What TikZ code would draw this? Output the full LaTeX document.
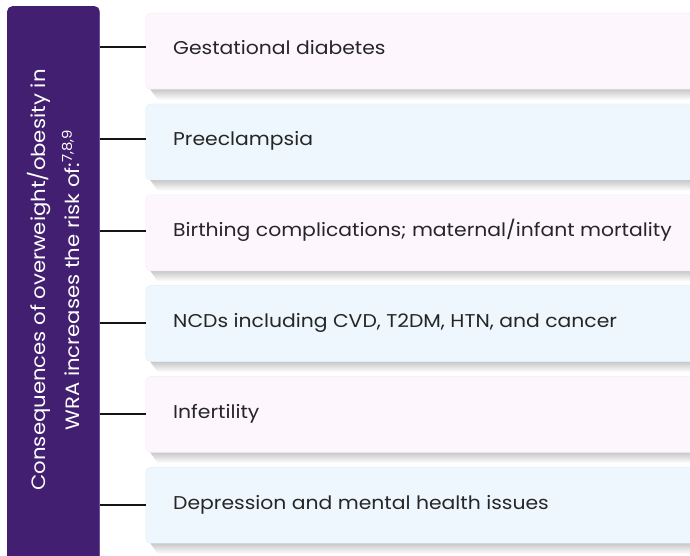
\documentclass[tikz,border=0pt]{standalone}
\usepackage{fontspec}
\setmainfont{Poppins}[FakeStretch=1.1]
\usetikzlibrary{positioning}
\definecolor{barpurple}{RGB}{66,31,112}
\definecolor{baredge}{RGB}{110,80,160}
\definecolor{boxpink}{RGB}{253,246,253}
\definecolor{boxblue}{RGB}{237,247,253}
\definecolor{pinkedge}{RGB}{246,236,246}
\definecolor{blueedge}{RGB}{226,238,248}
\definecolor{linkcol}{RGB}{20,20,20}
\tikzset{
  itembox/.style={rounded corners=5pt, minimum width=560pt, minimum height=76pt, anchor=north west, inner sep=0pt},
  pinkbox/.style={itembox, fill=boxpink, draw=pinkedge},
  bluebox/.style={itembox, fill=boxblue, draw=blueedge},
  itemtext/.style={anchor=base west, font=\fontsize{18.5pt}{22pt}\selectfont, text=black!85, inner sep=0pt},
  link/.style={draw=linkcol, line width=2pt},
  boxshadow/.style={top color=black!22, bottom color=white, draw=none}
}
\begin{document}
\begin{tikzpicture}[x=1pt,y=-1pt]
\useasboundingbox (0,0) rectangle (690,556);
\clip (0,0) rectangle (690,556);
\fill[white] (0,0) rectangle (690,556);
% bar
\node[fill=barpurple, rounded corners=5pt, minimum width=92.5pt, minimum height=560pt, anchor=north west, inner sep=0pt] (bar) at (7,6) {};
\draw[baredge, line width=1pt] (99.5,12) -- (99.5,556);
\node[rotate=90, text=white, align=center, font=\fontsize{19.3pt}{34pt}\selectfont] (title) at (53.5,280)
  {Consequences of overweight/obesity in\\WRA increases the risk of:\textsuperscript{7,8,9}};
% shadows
\foreach \t in {13,103.8,194.6,285.4,376.2,467}{
  \shade[boxshadow] (150,\t+76) -- (700,\t+76) -- (700,\t+87) -- (158,\t+87) -- cycle;
}
% boxes
\node[pinkbox] (b1) at (145.5,13) {};
\node[bluebox] (b2) at (145.5,103.8) {};
\node[pinkbox] (b3) at (145.5,194.6) {};
\node[bluebox] (b4) at (145.5,285.4) {};
\node[pinkbox] (b5) at (145.5,376.2) {};
\node[bluebox] (b6) at (145.5,467) {};
% texts
\node[itemtext] (t1) at (173,55) {Gestational diabetes};
\node[itemtext] (t2) at (173,145.8) {Preeclampsia};
\node[itemtext] (t3) at (173,236.6) {Birthing complications; maternal/infant mortality};
\node[itemtext] (t4) at (173,327.4) {NCDs including CVD, T2DM, HTN, and cancer};
\node[itemtext] (t5) at (173,418.2) {Infertility};
\node[itemtext] (t6) at (173,509) {Depression and mental health issues};
% connector anchors
\coordinate (c1) at (145.5,46.7);
\coordinate (c2) at (145.5,139.5);
\coordinate (c3) at (145.5,230.5);
\coordinate (c4) at (145.5,322.5);
\coordinate (c5) at (145.5,413.5);
\coordinate (c6) at (145.5,505);
\foreach \i in {1,...,6}{
  \draw[link] (bar.east |- c\i) -- (c\i);
}
\end{tikzpicture}
\end{document}
